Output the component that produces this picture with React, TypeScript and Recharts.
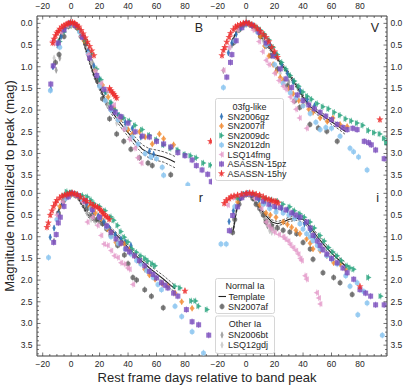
import React from 'react';
import { ComposedChart, Line, Scatter, XAxis, YAxis } from 'recharts';

type Pt = [number, number];
type TplPt = [number, number, number]; // day, mag, spread

// ---------- B band ----------
const B_SN2006gz: Pt[] = [[-14.3, 1.52], [-12.8, 1.0], [-9.5, 0.5], [-7, 0.3], [-4, 0.1], [-1, 0.01], [2, 0.02], [5, 0.12], [8, 0.3], [12, 0.62], [16, 0.98], [20, 1.28], [24, 1.58], [28, 1.85], [33, 2.12], [38, 2.28], [43, 2.42], [49, 2.62], [55, 2.95], [58, 3.02]];
const B_SN2007if: Pt[] = [[1, 0.02], [5, 0.12], [9, 0.4], [13, 0.78], [17, 1.08], [22, 1.42], [26, 1.7], [30, 1.95], [35, 2.2], [40, 2.45], [43, 2.55], [48, 2.5], [52, 2.62], [57, 2.78], [62, 2.55], [65, 2.66], [72, 2.8]];
const B_SN2009dc: Pt[] = [[-8, 0.42], [-5, 0.2], [-2, 0.05], [0, 0], [3, 0.04], [6, 0.15], [10, 0.38], [14, 0.7], [18, 1.05], [21, 1.3], [25, 1.58], [28, 1.82], [31, 2.0], [34, 2.12], [37, 2.18], [41, 2.25], [45, 2.35], [50, 2.45], [55, 2.58], [60, 2.68], [65, 2.8], [70, 2.88], [75, 2.92], [80, 3.02], [84, 3.05], [88, 3.1], [93, 3.22], [98, 3.27]];
const B_SN2012dn: Pt[] = [[-14.6, 1.55], [-8, 0.55], [0, 0.02], [6, 0.2], [12, 0.7], [20, 1.45], [24, 1.78], [28, 2.0], [33, 2.22], [38, 2.42], [43, 2.62], [47, 2.78], [52, 3.0], [56, 3.08], [60, 3.12], [64, 3.32], [65, 3.5], [82, 3.72]];
const B_LSQ14fmg: Pt[] = [[-13, 0.4], [-11.8, 0.46], [-7, 0.2], [-3, 0.05], [2, 0.03], [7, 0.3], [12, 0.72], [17, 1.1], [21, 1.38], [25, 1.55], [30, 1.88], [33.5, 2.17], [37, 2.44], [41, 2.67], [44.8, 2.88], [46.8, 3.1], [49.3, 3.22]];
const B_ASASSN15pz: Pt[] = [[-14.3, 1.4], [-12.6, 0.98], [-9, 0.45], [-5, 0.15], [-1, 0.0], [3, 0.05], [8, 0.32], [13, 0.8], [18, 1.2], [23, 1.52], [28, 1.95], [31, 2.05], [35, 2.15], [40, 2.3], [45, 2.5], [50, 2.6], [55, 2.62], [60, 2.72], [65, 2.78], [70, 2.85], [75, 2.98], [80, 3.05], [85, 3.15], [88, 3.28], [92, 3.38], [96, 3.48], [98.5, 3.65]];
const B_ASASSN15hy: Pt[] = [[-13, 0.45], [-12, 0.36], [-11, 0.28], [-10, 0.22], [-9, 0.18], [-8, 0.13], [-6.5, 0.08], [-5, 0.05], [-3.5, 0.02], [-2, 0.0], [-0.5, -0.02], [1, -0.02], [2.5, 0.0], [4, 0.04], [5.5, 0.08], [7, 0.16], [8.5, 0.24], [10, 0.33], [11.5, 0.43], [13, 0.53], [14.5, 0.63], [16, 0.74], [27, 1.5], [28, 1.55], [29, 1.6], [30, 1.63], [31, 1.68], [32, 1.72], [98, 2.72]];
const B_SN2007af: Pt[] = [[-11, 0.9], [-8.5, 0.72], [-5, 0.3], [-2, 0.07], [1, 0.02], [4, 0.1], [7, 0.3], [10.5, 0.47], [13, 0.72], [18.5, 1.32], [22, 1.74], [27, 2.2], [32, 2.55], [37, 2.72], [42, 2.9], [48, 3.1], [54, 3.22], [57, 3.28], [70, 3.49]];
const B_SN2006bt: Pt[] = [[-10.5, 1.08], [-8, 0.8], [0, 0.05], [5, 0.15], [10, 0.5], [15, 0.9], [20, 1.4], [25, 1.85]];
const B_LSQ12gdj: Pt[] = [[-12, 0.8], [-9, 0.45], [2, 0.05], [8, 0.35], [14, 0.9], [20, 1.4], [26, 1.9], [32, 2.3]];
const TPL_B: TplPt[] = [[-10, 0.52, 0.05], [-7, 0.25, 0.04], [-4, 0.07, 0.03], [0, 0, 0.03], [4, 0.08, 0.03], [8, 0.35, 0.04], [12, 0.78, 0.05], [16, 1.2, 0.05], [20, 1.48, 0.06], [25, 1.85, 0.07], [30, 2.1, 0.07], [35, 2.32, 0.08], [40, 2.52, 0.09], [45, 2.72, 0.1], [50, 2.9, 0.1], [55, 3.0, 0.11], [60, 3.04, 0.12], [65, 3.08, 0.12], [70, 3.15, 0.13], [73, 3.2, 0.13]];

// ---------- V band ----------
const V_SN2006gz: Pt[] = [[-12.5, 0.68], [-10, 0.45], [-7, 0.25], [-4, 0.1], [-1, 0.02], [2, 0.0], [5, 0.05], [9, 0.15], [13, 0.3], [17, 0.5], [21, 0.72], [25, 0.95], [29, 1.15], [33, 1.35], [38, 1.55], [43, 1.75], [48, 1.9]];
const V_SN2007if: Pt[] = [[-6, 0.15], [-2, 0.03], [2, 0.02], [6, 0.12], [10, 0.3], [13, 0.52], [16, 0.75], [19, 0.95], [21, 1.12], [24, 1.25], [26, 1.32], [30, 1.5], [33, 1.62], [37, 1.78], [40, 1.88], [44, 1.98], [47, 2.05], [52, 2.18], [57, 2.26], [61, 2.18], [66, 2.33], [71, 2.38]];
const V_SN2009dc: Pt[] = [[-5, 0.15], [-2, 0.05], [1, 0.0], [4, 0.03], [7, 0.08], [10, 0.15], [13, 0.25], [16, 0.38], [19, 0.55], [22, 0.72], [25, 0.9], [28, 1.05], [31, 1.2], [34, 1.33], [37, 1.45], [40, 1.58], [43, 1.68], [46, 1.75], [50, 1.85], [54, 1.92], [58, 1.97], [62, 2.05], [66, 2.12], [70, 2.2], [74, 2.25], [78, 2.3], [82, 2.35], [86, 2.47], [90, 2.52], [94, 2.55], [97, 2.65], [98.5, 2.75]];
const V_SN2012dn: Pt[] = [[-16, 1.48], [-8, 0.4], [0, 0.02], [8, 0.2], [14, 0.5], [20, 0.95], [26, 1.38], [31, 1.6], [35, 1.72], [40, 1.9], [45, 2.08], [49, 2.28], [52, 2.45], [56, 2.4], [60, 2.42], [66, 2.6], [73, 2.88], [75.5, 2.96], [79, 3.08], [85, 3.38]];
const V_LSQ14fmg: Pt[] = [[-16, 1.08], [-12, 0.55], [-6, 0.15], [0, 0.0], [5, 0.15], [9, 0.42], [11.5, 0.65], [14, 0.85], [16, 0.95], [20, 1.15], [23, 1.32], [26, 1.45], [28, 1.52], [31, 1.7], [33, 1.8], [35, 1.98], [37.5, 2.18], [42.5, 2.42]];
const V_ASASSN15pz: Pt[] = [[-13.6, 1.24], [-11, 0.9], [-10, 0.72], [-7, 0.4], [-3, 0.1], [0, 0], [4, 0.05], [9, 0.2], [14, 0.45], [19, 0.75], [24, 1.05], [28, 1.28], [32, 1.48], [36, 1.65], [40, 1.78], [44, 1.88], [48, 1.97], [52, 2.05], [56, 2.14], [60, 2.22], [64, 2.33], [68, 2.4], [71, 2.45], [75, 2.42], [78, 2.45], [83, 2.72], [86, 2.75], [88, 2.8], [91, 2.92], [97, 3.12]];
const V_ASASSN15hy: Pt[] = [[-17, 0.74], [-16, 0.62], [-15, 0.55], [-13.6, 0.43], [-12, 0.32], [-11, 0.23], [-9, 0.14], [-7.5, 0.08], [-6, 0.05], [-4, 0.02], [-2, 0.0], [0, -0.02], [2, 0.0], [4, 0.03], [6, 0.06], [8, 0.12], [10, 0.18], [12, 0.25], [14, 0.32], [16, 0.42], [18, 0.55], [20, 0.65], [22, 0.78], [94, 2.22]];
const V_SN2007af: Pt[] = [[-9, 0.45], [-5, 0.15], [0, 0.0], [5, 0.08], [10, 0.3], [14, 0.52], [17.4, 0.74], [22, 1.05], [29, 1.44], [34, 1.79], [37.6, 1.94], [44.8, 2.33], [50.7, 2.41], [56.7, 2.49], [64, 2.72]];
const V_SN2006bt: Pt[] = [[-16, 1.09], [-10, 0.5], [0, 0.02], [10, 0.3], [20, 0.75], [30, 1.35]];
const V_LSQ12gdj: Pt[] = [[-12, 0.6], [-5, 0.12], [3, 0.02], [12, 0.4], [18, 0.75], [24, 1.15]];
const TPL_V: TplPt[] = [[-10, 0.42, 0.04], [-6, 0.15, 0.03], [-3, 0.03, 0.03], [0, 0, 0.03], [4, 0.05, 0.03], [8, 0.2, 0.03], [12, 0.38, 0.04], [16, 0.55, 0.04], [20, 0.72, 0.04], [25, 0.95, 0.05], [30, 1.17, 0.05], [35, 1.42, 0.05], [40, 1.7, 0.05], [45, 1.92, 0.05], [50, 2.05, 0.06], [55, 2.16, 0.06], [60, 2.27, 0.06], [65, 2.38, 0.06], [70, 2.5, 0.07]];

// ---------- r band ----------
const R_SN2006gz: Pt[] = [[-14.7, 1.01], [-12, 0.8], [-9, 0.48], [-6, 0.25], [-3, 0.08], [0, 0.0], [3, 0.03], [7, 0.12], [11, 0.25], [15, 0.4], [19, 0.52], [23, 0.65], [27, 0.8], [31, 0.95], [35, 1.05], [38, 1.12], [42, 1.2]];
const R_SN2007if: Pt[] = [[-8, 0.3], [-4, 0.1], [0, 0.02], [4, 0.05], [8, 0.12], [13, 0.3], [17, 0.45], [21, 0.58], [25.6, 0.82], [28, 0.9], [31.5, 1.13], [35, 1.15], [37.4, 1.17], [41, 1.3], [44.5, 1.44], [48, 1.58], [51.7, 1.75], [55, 1.88], [59, 1.98], [64, 2.08], [68, 2.14], [73, 2.3], [77.7, 2.5], [85, 2.65]];
const R_SN2009dc: Pt[] = [[-5, 0.05], [-3, -0.04], [0, -0.02], [4, 0.02], [8, 0.05], [11.4, 0.08], [14, 0.15], [16, 0.23], [20, 0.3], [24, 0.4], [28, 0.54], [30, 0.62], [32.7, 0.74], [35, 0.88], [37.4, 1.01], [40, 1.12], [43, 1.28], [46, 1.36], [49, 1.44], [52, 1.5], [54, 1.56], [57, 1.62], [59, 1.67], [73, 2.14], [76.5, 2.18], [84.5, 2.48], [87.5, 2.48], [89.6, 2.6], [95.5, 2.68]];
const R_SN2012dn: Pt[] = [[-15.9, 1.48], [-10, 0.6], [-4, 0.12], [2, 0.02], [8, 0.15], [14, 0.35], [20, 0.55], [25, 0.78], [28, 1.0], [33, 1.15], [38, 1.28], [42, 1.4], [46, 1.55], [49, 1.63], [53, 1.78], [57.6, 1.94], [61, 2.1], [63.5, 2.22], [73, 2.6], [77.7, 2.84], [85, 3.19], [93, 3.68]];
const R_LSQ14fmg: Pt[] = [[-10, 0.5], [-6, 0.2], [-2, 0.05], [3, 0.05], [8, 0.2], [11.4, 0.66], [15, 0.55], [18.5, 0.74], [21, 0.97], [23, 1.17], [25.6, 1.2], [28, 1.32], [30.3, 1.44], [32.7, 1.48], [35, 1.6], [37.4, 1.63], [39.8, 1.72], [41, 1.75], [43.4, 2.1]];
const R_ASASSN15pz: Pt[] = [[-12.3, 1.13], [-10.5, 0.95], [-9, 0.68], [-7.6, 0.55], [-5, 0.3], [-2, 0.08], [1, 0.0], [5, 0.05], [10, 0.18], [15, 0.38], [20, 0.55], [25, 0.75], [28, 0.9], [31.5, 1.05], [35, 1.15], [38.6, 1.28], [41, 1.35], [44.5, 1.44], [48, 1.55], [51.7, 1.67], [55, 1.8], [57.6, 1.87], [60, 1.95], [63.5, 2.06], [66, 2.12], [68, 2.18], [72, 2.3], [75, 2.37], [81, 2.68], [85, 2.96], [89.6, 3.03], [96.7, 3.27]];
const R_ASASSN15hy: Pt[] = [[-17, 0.78], [-16, 0.68], [-14.7, 0.5], [-13.5, 0.4], [-12.3, 0.3], [-11, 0.22], [-10, 0.16], [-8, 0.1], [-6.4, 0.06], [-4.5, 0.04], [-2.8, 0.02], [-1, 0.0], [0.7, -0.01], [2.5, 0.01], [4.3, 0.03], [6.5, 0.08], [9, 0.14], [11, 0.18], [13.7, 0.23], [15.5, 0.28], [17, 0.3], [18.5, 0.32], [20, 0.36], [21, 0.4], [22, 0.44], [23, 0.48], [24.3, 0.52], [25.6, 0.55], [26.8, 0.6], [80, 2.25]];
const R_SN2007af: Pt[] = [[-9, 0.45], [-5, 0.15], [-1, 0.01], [3, 0.05], [7.8, 0.16], [11.4, 0.35], [15, 0.5], [18, 0.6], [22, 0.7], [25, 0.82], [28, 0.97], [32.7, 1.2], [37.4, 1.42], [40, 1.62], [43.4, 1.94], [46, 2.0], [51.7, 2.22], [56.4, 2.37], [64.7, 2.64]];
const R_SN2006bt: Pt[] = [[-12, 1.1], [-5, 0.2], [0, 0.02], [5, 0.1], [10, 0.3], [13, 0.5], [16, 0.6], [20, 0.62], [24, 0.7]];
const R_LSQ12gdj: Pt[] = [[-8, 0.5], [0, 0.03], [8, 0.2], [11, 0.45], [14, 0.6], [17, 0.65], [22, 0.68]];
const TPL_R: TplPt[] = [[-10, 0.5, 0.04], [-6, 0.18, 0.03], [-3, 0.04, 0.03], [0, 0, 0.03], [4, 0.06, 0.03], [8, 0.28, 0.04], [12, 0.5, 0.05], [16, 0.6, 0.05], [20, 0.64, 0.05], [25, 0.74, 0.05], [30, 0.9, 0.05], [35, 1.06, 0.05], [40, 1.25, 0.06], [45, 1.42, 0.06], [50, 1.57, 0.06], [55, 1.72, 0.07], [60, 1.85, 0.07], [65, 1.98, 0.08], [70, 2.12, 0.08], [73, 2.2, 0.08]];

// ---------- i band ----------
const I_SN2006gz: Pt[] = [[-12, 0.65], [-9, 0.4], [-5, 0.15], [-2, 0.03], [1, 0.0], [5, 0.05], [9, 0.15], [13, 0.22], [17, 0.3], [21, 0.35], [25, 0.35], [29, 0.38], [33, 0.45], [37, 0.55], [41, 0.7], [45, 0.85], [48, 1.0]];
const I_SN2007if: Pt[] = [[-6, 0.2], [-2, 0.05], [2, 0.03], [6, 0.1], [9.5, 0.27], [14, 0.45], [17, 0.5], [21, 0.55], [26, 0.66], [29, 0.72], [32, 0.78], [35, 0.85], [37.8, 0.93], [42.5, 1.05], [45, 1.15], [47, 1.28], [52, 1.32], [56.7, 1.44], [61.5, 1.6], [66, 1.63], [70, 1.75]];
const I_SN2009dc: Pt[] = [[-6, 0.1], [-2, 0.02], [2, 0.0], [6, 0.03], [10, 0.08], [14, 0.12], [18, 0.15], [22, 0.18], [26, 0.25], [30.7, 0.31], [34, 0.4], [37.8, 0.47], [41, 0.55], [45, 0.66], [48, 0.8], [52, 0.97], [55, 1.1], [58, 1.25], [61, 1.35], [64, 1.44], [67, 1.55], [71, 1.67], [73, 1.72], [75.6, 1.75], [86, 1.94], [94.6, 2.37]];
const I_SN2012dn: Pt[] = [[-17.7, 1.17], [-14, 1.17], [-8, 0.3], [-3, 0.05], [2, 0.02], [7, 0.12], [12, 0.25], [16.5, 0.35], [21, 0.43], [26, 0.45], [30, 0.5], [34, 0.58], [37.8, 0.7], [40, 0.82], [42.5, 0.93], [45, 1.0], [47, 1.09], [50, 1.2], [52, 1.28], [56.7, 1.44], [60, 1.52], [64, 1.63], [70, 1.9], [73, 2.14], [78, 2.06], [82.7, 2.26], [85, 2.53], [78.5, 2.8], [95.7, 3.27]];
const I_LSQ14fmg: Pt[] = [[-13, 0.27], [-9, 0.1], [-4, 0.03], [1, 0.0], [6, 0.12], [10.6, 0.35], [14, 0.66], [16, 0.75], [17.7, 0.82], [20, 0.9], [23, 0.95], [26, 1.0], [27.5, 1.05], [29.5, 1.1], [31, 1.18], [33, 1.25], [35, 1.32], [36.6, 1.4], [38, 1.5], [39, 1.55], [41.4, 1.9], [42.5, 1.98], [49.6, 2.29], [51, 2.41], [52, 2.55]];
const I_ASASSN15pz: Pt[] = [[-11.8, 0.86], [-9.5, 0.51], [-6, 0.31], [-3, 0.1], [0, 0.02], [4, 0.03], [8, 0.1], [12, 0.18], [16, 0.25], [20, 0.3], [24, 0.33], [28, 0.38], [32, 0.45], [35, 0.5], [38, 0.55], [42.5, 0.66], [45, 0.8], [47, 0.97], [50, 1.1], [52, 1.2], [54, 1.3], [56.7, 1.4], [60, 1.5], [64, 1.6], [68, 1.72], [71, 1.83], [75.6, 1.98], [80, 2.22], [84, 2.3], [87.5, 2.37], [91, 2.57], [97, 2.57]];
const I_ASASSN15hy: Pt[] = [[-15.4, 0.23], [-14, 0.16], [-12, 0.12], [-10.6, 0.08], [-8.5, 0.06], [-6, 0.04], [-3, 0.02], [0, 0.0], [2.5, -0.01], [4.7, 0.0], [7, 0.02], [9.5, 0.04], [12, 0.08], [14, 0.12], [16, 0.14], [17.7, 0.16], [19.5, 0.18], [21, 0.19], [22.5, 0.22], [80, 2.15]];
const I_SN2007af: Pt[] = [[-9.5, 0.9], [-8, 0.6], [-5, 0.25], [-2, 0.05], [1, 0.0], [4.7, 0.12], [7, 0.25], [9.5, 0.35], [12, 0.5], [14, 0.66], [17.7, 0.74], [22, 0.8], [26, 0.85], [30.7, 0.89], [35.5, 0.93], [40, 1.13], [45, 1.28], [47, 1.52], [54, 1.83], [61.5, 1.94], [66, 2.06], [74.5, 2.33]];
const I_SN2006bt: Pt[] = [[-10, 0.85], [-5, 0.2], [0, 0.02], [6, 0.15], [10, 0.4], [13, 0.6], [15, 0.75], [17, 0.82], [19, 0.8]];
const I_LSQ12gdj: Pt[] = [[-8, 0.45], [0, 0.03], [7, 0.2], [12, 0.5], [14.5, 0.72], [16.5, 0.86], [18, 0.9], [20, 0.85]];
const TPL_I: TplPt[] = [[-9, 0.85, 0.05], [-7, 0.42, 0.04], [-5, 0.2, 0.03], [-2, 0.05, 0.03], [0, 0.02, 0.03], [3, 0.05, 0.03], [6, 0.18, 0.04], [10, 0.36, 0.04], [14, 0.52, 0.05], [18, 0.66, 0.05], [22, 0.7, 0.05], [26, 0.66, 0.05], [30, 0.6, 0.05], [35, 0.57, 0.05], [40, 0.6, 0.06], [45, 0.78, 0.06], [50, 1.0, 0.06], [55, 1.2, 0.07], [60, 1.38, 0.07], [65, 1.53, 0.07], [70, 1.68, 0.08]];

// ---------- axes ----------
const DAY_DOMAIN: [number, number] = [-24, 99];
const MAG_DOMAIN: [number, number] = [-0.17, 3.75];
const DAY_TICKS = [-20, -15, -10, -5, 0, 5, 10, 15, 20, 25, 30, 35, 40, 45, 50, 55, 60, 65, 70, 75, 80, 85, 90, 95];
const DAY_LABELS = [-20, 0, 20, 40, 60, 80];
const MAG_TICKS = [-0.1, 0, 0.1, 0.2, 0.3, 0.4, 0.5, 0.6, 0.7, 0.8, 0.9, 1.0, 1.1, 1.2, 1.3, 1.4, 1.5, 1.6, 1.7, 1.8, 1.9, 2.0, 2.1, 2.2, 2.3, 2.4, 2.5, 2.6, 2.7, 2.8, 2.9, 3.0, 3.1, 3.2, 3.3, 3.4, 3.5, 3.6, 3.7];
const MAG_LABELS = [0, 0.5, 1.0, 1.5, 2.0, 2.5, 3.0, 3.5];

type Kind = 'thin' | 'diamond' | 'triR' | 'triL' | 'circle' | 'square' | 'star';
interface Obj { name: string; color: string; kind: Kind; opacity: number }

const FG03: Obj[] = [
    { name: 'SN2006gz', color: '#2f72b8', kind: 'thin', opacity: 0.85 },
    { name: 'SN2007if', color: '#f0862a', kind: 'diamond', opacity: 0.75 },
    { name: 'SN2009dc', color: '#26a37c', kind: 'triR', opacity: 0.8 },
    { name: 'SN2012dn', color: '#8cc6f0', kind: 'circle', opacity: 0.85 },
    { name: 'LSQ14fmg', color: '#e49ac9', kind: 'triL', opacity: 0.8 },
    { name: 'ASASSN-15pz', color: '#7a4dbd', kind: 'square', opacity: 0.8 },
    { name: 'ASASSN-15hy', color: '#ec2a2a', kind: 'star', opacity: 0.8 },
];
const NORMAL: Obj = { name: 'SN2007af', color: '#555555', kind: 'circle', opacity: 0.75 };
const OTHER: Obj[] = [
    { name: 'SN2006bt', color: '#8c8c8c', kind: 'thin', opacity: 0.7 },
    { name: 'LSQ12gdj', color: '#c2c2c2', kind: 'thin', opacity: 0.7 },
];

interface Band { label: string; data: Record<string, Pt[]>; tpl: TplPt[] }

const BANDS: Record<string, Band> = {
    B: { label: 'B', tpl: TPL_B, data: { SN2006gz: B_SN2006gz, SN2007if: B_SN2007if, SN2009dc: B_SN2009dc, SN2012dn: B_SN2012dn, LSQ14fmg: B_LSQ14fmg, 'ASASSN-15pz': B_ASASSN15pz, 'ASASSN-15hy': B_ASASSN15hy, SN2007af: B_SN2007af, SN2006bt: B_SN2006bt, LSQ12gdj: B_LSQ12gdj } },
    V: { label: 'V', tpl: TPL_V, data: { SN2006gz: V_SN2006gz, SN2007if: V_SN2007if, SN2009dc: V_SN2009dc, SN2012dn: V_SN2012dn, LSQ14fmg: V_LSQ14fmg, 'ASASSN-15pz': V_ASASSN15pz, 'ASASSN-15hy': V_ASASSN15hy, SN2007af: V_SN2007af, SN2006bt: V_SN2006bt, LSQ12gdj: V_LSQ12gdj } },
    r: { label: 'r', tpl: TPL_R, data: { SN2006gz: R_SN2006gz, SN2007if: R_SN2007if, SN2009dc: R_SN2009dc, SN2012dn: R_SN2012dn, LSQ14fmg: R_LSQ14fmg, 'ASASSN-15pz': R_ASASSN15pz, 'ASASSN-15hy': R_ASASSN15hy, SN2007af: R_SN2007af, SN2006bt: R_SN2006bt, LSQ12gdj: R_LSQ12gdj } },
    i: { label: 'i', tpl: TPL_I, data: { SN2006gz: I_SN2006gz, SN2007if: I_SN2007if, SN2009dc: I_SN2009dc, SN2012dn: I_SN2012dn, LSQ14fmg: I_LSQ14fmg, 'ASASSN-15pz': I_ASASSN15pz, 'ASASSN-15hy': I_ASASSN15hy, SN2007af: I_SN2007af, SN2006bt: I_SN2006bt, LSQ12gdj: I_LSQ12gdj } },
};

const FONT = '"Liberation Sans", Arial, Helvetica, sans-serif';
const INK = '#262626';
const FRAME = '#3a3a3a';
const PLOT_W = 175;
const PLOT_H = 170;

const starPoints = (cx: number, cy: number, ro: number, ri: number) => {
    const pts: string[] = [];
    for (let k = 0; k < 10; k++) {
        const r = k % 2 ? ri : ro;
        const a = -Math.PI / 2 + (k * Math.PI) / 5;
        pts.push(`${(cx + r * Math.cos(a)).toFixed(2)},${(cy + r * Math.sin(a)).toFixed(2)}`);
    }
    return pts.join(' ');
};

const Marker = ({ kind, color, opacity, cx, cy }: { kind: Kind; color: string; opacity: number; cx: number; cy: number }) => {
    if (cx == null || cy == null || isNaN(cx) || isNaN(cy)) return null;
    let body: React.ReactNode = null;
    switch (kind) {
        case 'thin':
            body = <polygon points={`${cx},${cy - 3.4} ${cx + 1.7},${cy} ${cx},${cy + 3.4} ${cx - 1.7},${cy}`} />;
            break;
        case 'diamond':
            body = <polygon points={`${cx},${cy - 3} ${cx + 2.6},${cy} ${cx},${cy + 3} ${cx - 2.6},${cy}`} />;
            break;
        case 'triR':
            body = <polygon points={`${cx + 3},${cy} ${cx - 2.2},${cy - 2.9} ${cx - 2.2},${cy + 2.9}`} />;
            break;
        case 'triL':
            body = <polygon points={`${cx - 3},${cy} ${cx + 2.2},${cy - 2.9} ${cx + 2.2},${cy + 2.9}`} />;
            break;
        case 'circle':
            body = <circle cx={cx} cy={cy} r={2.5} />;
            break;
        case 'square':
            body = <rect x={cx - 2.5} y={cy - 2.5} width={5} height={5} />;
            break;
        case 'star':
            body = <polygon points={starPoints(cx, cy, 3.8, 1.6)} />;
            break;
    }
    return (
        <g fill={color} fillOpacity={opacity}>
            <line x1={cx} x2={cx} y1={cy - 3.2} y2={cy + 3.2} stroke={color} strokeOpacity={opacity} strokeWidth={0.8} />
            {body}
        </g>
    );
};

const fmtDay = (v: number) => (v < 0 ? `\u2212${Math.abs(v)}` : `${v}`);
const isMagLabel = (v: number) => MAG_LABELS.some((m) => Math.abs(m - v) < 1e-6);

// ticks point into the plot; labels only where the panel shows them
const DayTick = (props: any) => {
    const { x, y, payload, side, show } = props;
    const v = payload.value;
    const major = DAY_LABELS.includes(v);
    const len = major ? 3.5 : 2;
    const dir = side === 'top' ? 1 : -1;
    return (
        <g>
            <line x1={x} x2={x} y1={y} y2={y + dir * len} stroke={FRAME} strokeWidth={0.7} />
            {show && major && (
                <text x={x} y={side === 'top' ? y - 7 : y + 11} textAnchor="middle" fontSize={8.5} fill={INK} fontFamily={FONT}>
                    {fmtDay(v)}
                </text>
            )}
        </g>
    );
};

const MagTick = (props: any) => {
    const { x, y, payload, side, show } = props;
    const v = payload.value;
    const major = isMagLabel(v);
    const len = major ? 3.5 : 2;
    const dir = side === 'left' ? 1 : -1;
    return (
        <g>
            <line x1={x} x2={x + dir * len} y1={y} y2={y} stroke={FRAME} strokeWidth={0.7} />
            {show && major && (
                <text x={side === 'left' ? x - 4.5 : x + 3.5} y={y} dy="0.35em" textAnchor={side === 'left' ? 'end' : 'start'} fontSize={8.5} fill={INK} fontFamily={FONT}>
                    {v.toFixed(1)}
                </text>
            )}
        </g>
    );
};

const toXY = (pts: Pt[]) => pts.map(([x, y]) => ({ x, y }));

interface PanelProps { band: Band; left: number; top: number; showTop: boolean; showBottom: boolean; showLeft: boolean; showRight: boolean }

const Panel = ({ band, left, top, showTop, showBottom, showLeft, showRight }: PanelProps) => {
    const hTop = showTop ? 16 : 0;
    const hBot = showBottom ? 16 : 0;
    const wL = showLeft ? 37 : 0;
    const wR = showRight ? 20 : 0;
    const width = wL + PLOT_W + wR;
    const height = hTop + PLOT_H + hBot;
    const axisLine = { stroke: FRAME, strokeWidth: 1 };
    const tplMid = band.tpl.map(([x, y]) => ({ x, y }));
    const tplHi = band.tpl.map(([x, y, e]) => ({ x, y: y - e }));
    const tplLo = band.tpl.map(([x, y, e]) => ({ x, y: y + e }));
    const order: Obj[] = [...OTHER, NORMAL, ...FG03];

    return (
        <div style={{ position: 'absolute', left, top, width, height }}>
            <ComposedChart width={width} height={height} margin={{ top: 0, right: 0, bottom: 0, left: 0 }}>
                <XAxis xAxisId="t" orientation="top" type="number" dataKey="x" domain={DAY_DOMAIN} allowDataOverflow ticks={DAY_TICKS} interval={0} height={hTop} tickSize={0} tickMargin={0} tickLine={false} axisLine={axisLine} tick={(p: any) => <DayTick {...p} side="top" show={showTop} />} />
                <XAxis xAxisId="b" orientation="bottom" type="number" dataKey="x" domain={DAY_DOMAIN} allowDataOverflow ticks={DAY_TICKS} interval={0} height={hBot} tickSize={0} tickMargin={0} tickLine={false} axisLine={axisLine} tick={(p: any) => <DayTick {...p} side="bottom" show={showBottom} />} />
                <YAxis yAxisId="l" orientation="left" type="number" dataKey="y" domain={MAG_DOMAIN} reversed allowDataOverflow ticks={MAG_TICKS} interval={0} width={wL} tickSize={0} tickMargin={0} tickLine={false} axisLine={axisLine} tick={(p: any) => <MagTick {...p} side="left" show={showLeft} />} />
                <YAxis yAxisId="r" orientation="right" type="number" dataKey="y" domain={MAG_DOMAIN} reversed allowDataOverflow ticks={MAG_TICKS} interval={0} width={wR} tickSize={0} tickMargin={0} tickLine={false} axisLine={axisLine} tick={(p: any) => <MagTick {...p} side="right" show={showRight} />} />
                {order.map((o) => (
                    <Scatter
                        key={o.name}
                        name={o.name}
                        xAxisId="t"
                        yAxisId="l"
                        data={toXY(band.data[o.name])}
                        isAnimationActive={false}
                        shape={(p: any) => <Marker kind={o.kind} color={o.color} opacity={o.opacity} cx={p.cx} cy={p.cy} />}
                    />
                ))}
                <Line xAxisId="t" yAxisId="l" data={tplHi} dataKey="y" type="linear" stroke="#333" strokeWidth={0.8} strokeDasharray="2.5 1.5" dot={false} activeDot={false} isAnimationActive={false} />
                <Line xAxisId="t" yAxisId="l" data={tplLo} dataKey="y" type="linear" stroke="#333" strokeWidth={0.8} strokeDasharray="2.5 1.5" dot={false} activeDot={false} isAnimationActive={false} />
                <Line xAxisId="t" yAxisId="l" data={tplMid} dataKey="y" type="linear" stroke="#222" strokeWidth={1.1} dot={false} activeDot={false} isAnimationActive={false} />
            </ComposedChart>
        </div>
    );
};

const LegendRow = ({ obj, x, y }: { obj: Obj; x: number; y: number }) => (
    <g>
        <Marker kind={obj.kind} color={obj.color} opacity={obj.opacity} cx={x} cy={y} />
        <text x={x + 6} y={y} dy="0.35em" fontSize={9} fill={INK} fontFamily={FONT}>{obj.name}</text>
    </g>
);

const Overlay = () => (
    <svg width={407} height={388} style={{ position: 'absolute', left: 0, top: 0, pointerEvents: 'none' }}>
        {/* panel letters */}
        <text x={203} y={32} textAnchor="end" fontSize={12.5} fill={INK} fontFamily={FONT}>B</text>
        <text x={379} y={32} textAnchor="end" fontSize={12.5} fill={INK} fontFamily={FONT}>V</text>
        <text x={203} y={202} textAnchor="end" fontSize={12.5} fill={INK} fontFamily={FONT}>r</text>
        <text x={379} y={202} textAnchor="end" fontSize={12.5} fill={INK} fontFamily={FONT}>i</text>

        {/* 03fg-like legend */}
        <rect x={215.5} y={98.5} width={68} height={82} rx={2} fill="#fff" fillOpacity={0.85} stroke="#cccccc" strokeWidth={0.8} />
        <text x={249.5} y={106.5} dy="0.35em" textAnchor="middle" fontSize={9} fill={INK} fontFamily={FONT}>03fg-like</text>
        {FG03.map((o, k) => (
            <LegendRow key={o.name} obj={o} x={221.5} y={116.5 + k * 9.5} />
        ))}

        {/* Normal Ia legend */}
        <rect x={215.5} y={278.5} width={59} height={35} rx={2} fill="#fff" fillOpacity={0.85} stroke="#cccccc" strokeWidth={0.8} />
        <text x={245} y={286} dy="0.35em" textAnchor="middle" fontSize={9} fill={INK} fontFamily={FONT}>Normal Ia</text>
        <line x1={218.5} x2={226} y1={296.5} y2={296.5} stroke="#222" strokeWidth={1.1} />
        <text x={228.5} y={296.5} dy="0.35em" fontSize={9} fill={INK} fontFamily={FONT}>Template</text>
        <LegendRow obj={NORMAL} x={222} y={306.5} />

        {/* Other Ia legend */}
        <rect x={215.5} y={316} width={59} height={37.5} rx={2} fill="#fff" fillOpacity={0.85} stroke="#cccccc" strokeWidth={0.8} />
        <text x={245} y={324} dy="0.35em" textAnchor="middle" fontSize={9} fill={INK} fontFamily={FONT}>Other Ia</text>
        {OTHER.map((o, k) => (
            <LegendRow key={o.name} obj={o} x={222} y={335 + k * 10} />
        ))}

        {/* axis titles */}
        <text x={207} y={382} textAnchor="middle" fontSize={13} fill={INK} fontFamily={FONT}>Rest frame days relative to band peak</text>
        <text transform="translate(14,186) rotate(-90)" textAnchor="middle" fontSize={13} fill={INK} fontFamily={FONT}>Magnitude normalized to peak (mag)</text>
    </svg>
);

export default function App() {
    return (
        <div style={{ position: 'absolute', left: 0, top: 0, width: 407, height: 388, background: '#fff', fontFamily: FONT }}>
            <style>{'.recharts-surface { overflow: visible; }'}</style>
            <Panel band={BANDS.B} left={0} top={0} showTop showBottom={false} showLeft showRight={false} />
            <Panel band={BANDS.V} left={212} top={0} showTop showBottom={false} showLeft={false} showRight />
            <Panel band={BANDS.r} left={0} top={186} showTop={false} showBottom showLeft showRight={false} />
            <Panel band={BANDS.i} left={212} top={186} showTop={false} showBottom showLeft={false} showRight />
            <Overlay />
        </div>
    );
}
